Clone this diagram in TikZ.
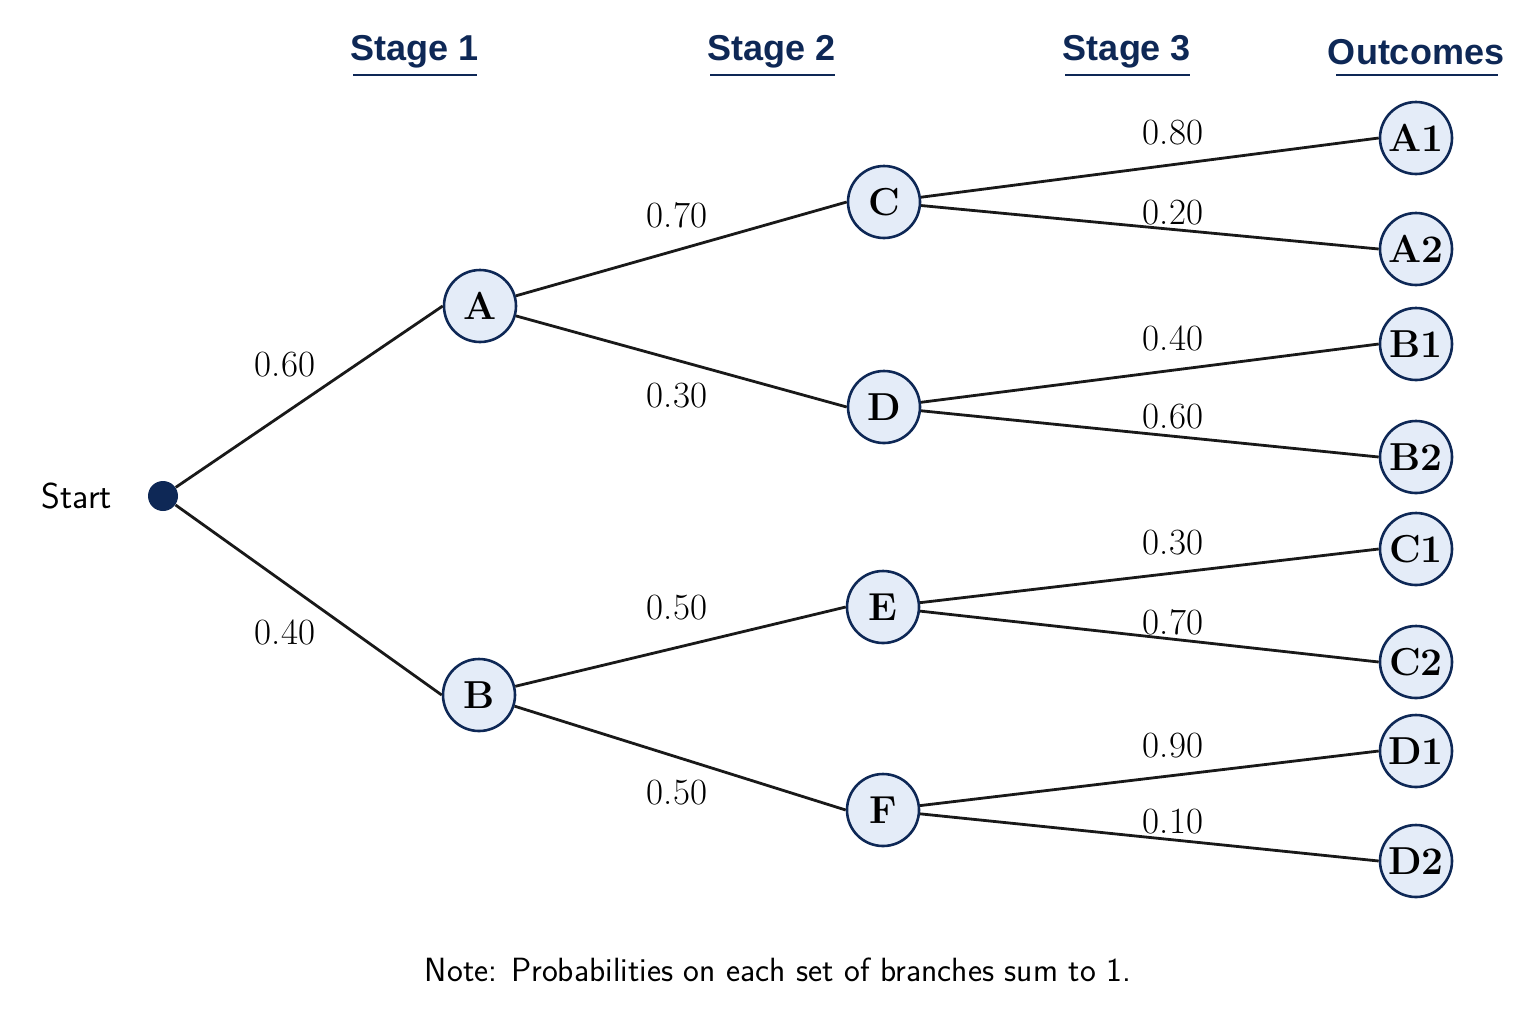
\documentclass[tikz,border=0pt]{standalone}
\usepackage{fontspec}
\newfontfamily\headfont{Liberation Sans}
\definecolor{navy}{RGB}{14,40,86}
\definecolor{nodefill}{RGB}{228,236,248}
\begin{document}
\begin{tikzpicture}[x=0.5pt,y=-0.5pt,
  state/.style={circle,draw=navy,line width=1.3pt,fill=nodefill,minimum size=36pt,inner sep=0pt,font=\fontsize{19.5}{20}\selectfont\bfseries},
  branch/.style={line width=1.4pt,draw=black!90},
  prob/.style={font=\fontsize{18.5}{20}\selectfont},
  header/.style={font=\headfont\fontsize{18}{20}\selectfont\bfseries,text=navy},
  uline/.style={draw=navy,line width=1.3pt}]
\useasboundingbox (0,0) rectangle (1536,1024);
% nodes
\node[circle,fill=navy,minimum size=15pt,inner sep=0pt] (S) at (163,496) {};
\node[font=\sffamily\fontsize{18}{20}\selectfont] (St) at (77,496) {Start};
\node[state] (A) at (480,306) {A};
\node[state] (B) at (479,695) {B};
\node[state] (C) at (884,202) {C};
\node[state] (D) at (884,407) {D};
\node[state] (E) at (883,607) {E};
\node[state] (F) at (883,810) {F};
\node[state] (A1) at (1416,138) {A1};
\node[state] (A2) at (1416,249) {A2};
\node[state] (B1) at (1416,344) {B1};
\node[state] (B2) at (1416,457) {B2};
\node[state] (C1) at (1416,549) {C1};
\node[state] (C2) at (1416,662) {C2};
\node[state] (D1) at (1416,751) {D1};
\node[state] (D2) at (1416,861) {D2};
% edges
\draw[branch] (S) -- (A.west);
\draw[branch] (S) -- (B.west);
\draw[branch] (A) -- (C.west);
\draw[branch] (A) -- (D.west);
\draw[branch] (B) -- (E.west);
\draw[branch] (B) -- (F.west);
\draw[branch] (C) -- (A1.west);
\draw[branch] (C) -- (A2.west);
\draw[branch] (D) -- (B1.west);
\draw[branch] (D) -- (B2.west);
\draw[branch] (E) -- (C1.west);
\draw[branch] (E) -- (C2.west);
\draw[branch] (F) -- (D1.west);
\draw[branch] (F) -- (D2.west);
% probabilities
\node[prob] (p1) at (285,365) {0.60};
\node[prob] (p2) at (285,632) {0.40};
\node[prob] (p3) at (677,215) {0.70};
\node[prob] (p4) at (677,396) {0.30};
\node[prob] (p5) at (677,608) {0.50};
\node[prob] (p6) at (677,793) {0.50};
\node[prob] (p7) at (1173,133) {0.80};
\node[prob] (p8) at (1173,213) {0.20};
\node[prob] (p9) at (1173,338) {0.40};
\node[prob] (p10) at (1173,417) {0.60};
\node[prob] (p11) at (1173,543) {0.30};
\node[prob] (p12) at (1173,622) {0.70};
\node[prob] (p13) at (1173,746) {0.90};
\node[prob] (p14) at (1173,822) {0.10};
% headers
\node[header] (h1) at (415,52) {Stage 1};
\node[header] (h2) at (772,52) {Stage 2};
\node[header] (h3) at (1127,52) {Stage 3};
\node[header] (h4) at (1416,52) {Outcomes};
\coordinate (u1a) at (353,75); \coordinate (u1b) at (477,75);
\coordinate (u2a) at (710,75); \coordinate (u2b) at (835,75);
\coordinate (u3a) at (1065,75); \coordinate (u3b) at (1190,75);
\coordinate (u4a) at (1336,75); \coordinate (u4b) at (1498,75);
\draw[uline] (u1a) -- (u1b);
\draw[uline] (u2a) -- (u2b);
\draw[uline] (u3a) -- (u3b);
\draw[uline] (u4a) -- (u4b);
% note
\node[font=\sffamily\fontsize{16.8}{20}\selectfont] (note) at (778,970) {Note: Probabilities on each set of branches sum to 1.};
\end{tikzpicture}
\end{document}
